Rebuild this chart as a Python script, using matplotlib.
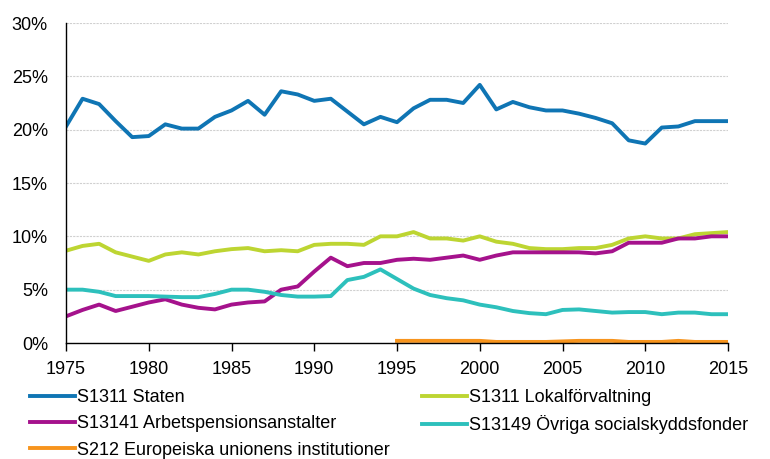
import matplotlib
matplotlib.use("Agg")
import matplotlib.pyplot as plt
from matplotlib.ticker import FuncFormatter

years = list(range(1975, 2016))
eu_years = list(range(1995, 2016))

staten = [20.3, 22.9, 22.4, 20.8, 19.3, 19.4, 20.5, 20.1, 20.1, 21.2,
          21.8, 22.7, 21.4, 23.6, 23.3, 22.7, 22.9, 21.7, 20.5, 21.2,
          20.7, 22.0, 22.8, 22.8, 22.5, 24.2, 21.9, 22.6, 22.1, 21.8,
          21.8, 21.5, 21.1, 20.6, 19.0, 18.7, 20.2, 20.3, 20.8, 20.8,
          20.8]
lokal = [8.65, 9.1, 9.3, 8.5, 8.1, 7.7, 8.3, 8.5, 8.3, 8.6,
         8.8, 8.9, 8.6, 8.7, 8.6, 9.2, 9.3, 9.3, 9.2, 10.0,
         10.0, 10.4, 9.8, 9.8, 9.6, 10.0, 9.5, 9.3, 8.9, 8.8,
         8.8, 8.9, 8.9, 9.2, 9.8, 10.0, 9.8, 9.8, 10.2, 10.3,
         10.4]
arbets = [2.5, 3.1, 3.6, 3.0, 3.4, 3.8, 4.1, 3.6, 3.3, 3.15,
          3.6, 3.8, 3.9, 5.0, 5.3, 6.7, 8.0, 7.2, 7.5, 7.5,
          7.8, 7.9, 7.8, 8.0, 8.2, 7.8, 8.2, 8.5, 8.5, 8.5,
          8.5, 8.5, 8.4, 8.6, 9.4, 9.4, 9.4, 9.8, 9.8, 10.0,
          10.0]
ovriga = [5.0, 5.0, 4.8, 4.4, 4.4, 4.4, 4.35, 4.3, 4.3, 4.6,
          5.0, 5.0, 4.8, 4.5, 4.35, 4.35, 4.4, 5.9, 6.2, 6.9,
          6.0, 5.1, 4.5, 4.2, 4.0, 3.6, 3.35, 3.0, 2.8, 2.7,
          3.1, 3.15, 3.0, 2.85, 2.9, 2.9, 2.7, 2.85, 2.85, 2.7,
          2.7]
eu = [0.2, 0.2, 0.2, 0.2, 0.2, 0.2, 0.1, 0.1, 0.1, 0.1,
      0.15, 0.2, 0.2, 0.2, 0.1, 0.1, 0.1, 0.2, 0.1, 0.1,
      0.1]

labels = ["S1311 Staten", "S1311 Lokalförvaltning",
          "S13141 Arbetspensionsanstalter", "S13149 Övriga socialskyddsfonder",
          "S212 Europeiska unionens institutioner"]
colors = ["#0F75B4", "#BDD532", "#A5128C", "#2DC0BC", "#F7941D"]

plt.rcParams['font.family'] = ['Liberation Sans', 'DejaVu Sans']

fig = plt.figure(figsize=(7.7, 4.59), dpi=100)
ax = fig.add_axes([66 / 770, 1 - 343 / 459, 662 / 770, 320 / 459])

lw = 2.8
ax.plot(years, staten, color=colors[0], lw=lw, label=labels[0])
ax.plot(years, lokal, color=colors[1], lw=lw, label=labels[1])
ax.plot(years, arbets, color=colors[2], lw=lw, label=labels[2])
ax.plot(years, ovriga, color=colors[3], lw=lw, label=labels[3])
ax.plot(eu_years, eu, color=colors[4], lw=lw, label=labels[4])

ax.set_xlim(1975, 2015)
ax.set_ylim(0, 30)
ax.set_xticks(range(1975, 2016, 5))
ax.set_yticks(range(0, 31, 5))
ax.yaxis.set_major_formatter(FuncFormatter(lambda v, p: f"{v:.0f}%"))
ax.tick_params(axis='x', direction='out', length=6, width=1, labelsize=13, pad=7)
ax.tick_params(axis='y', length=0, labelsize=13, pad=13)
for s in ['top', 'right']:
    ax.spines[s].set_visible(False)
for s in ['left', 'bottom']:
    ax.spines[s].set_color('black')
    ax.spines[s].set_linewidth(1)
ax.grid(axis='y', color='#d0d0d0', linestyle=(0, (2, 1)), linewidth=0.8)
ax.set_axisbelow(True)

# legend in two separately placed columns, rows read left to right
handles, labs = ax.get_legend_handles_labels()
leg_kw = dict(loc='upper left', frameon=False, fontsize=13, handlelength=2.5,
              handletextpad=0.1, labelspacing=0.52, borderaxespad=0, borderpad=0)
left_idx = [0, 2, 4]
right_idx = [1, 3]
fig.legend([handles[i] for i in left_idx], [labs[i] for i in left_idx],
           bbox_to_anchor=(30 / 770, 1 - 389 / 459), **leg_kw)
fig.legend([handles[i] for i in right_idx], [labs[i] for i in right_idx],
           bbox_to_anchor=(422 / 770, 1 - 389 / 459), **leg_kw)

fig.savefig("out.png", dpi=100)
